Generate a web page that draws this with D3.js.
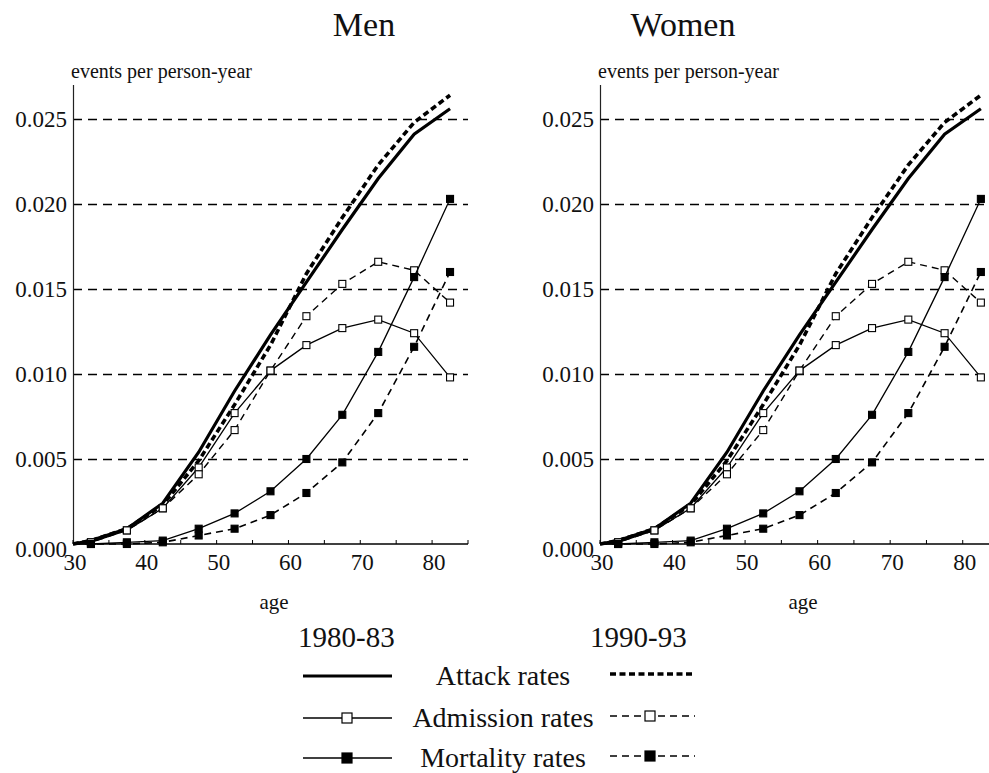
<!DOCTYPE html>
<html>
<head>
<meta charset="utf-8">
<script src="https://cdn.jsdelivr.net/npm/d3@7"></script>
<style>
    body { margin: 0; background: #fff; }
    svg { display: block; }
    text { font-family: "Liberation Serif", "Times New Roman", serif; fill: #111; }
</style>
</head>
<body>
<div id="chart"></div>
<script>
// data (both panels show the same curves)
const panels = ['Men', 'Women'];
const ages = [32.5, 37.5, 42.5, 47.5, 52.5, 57.5, 62.5, 67.5, 72.5, 77.5, 82.5];
const startAge = 30;
const attack8083 = [0.0002, 0.0009, 0.0024, 0.0054, 0.0090, 0.0123, 0.0154, 0.0185, 0.0215, 0.0241, 0.0256];
const attack9093 = [0.0002, 0.0009, 0.0023, 0.0049, 0.0082, 0.0117, 0.0159, 0.0192, 0.0223, 0.0248, 0.0264];
const admission8083 = [0.0001, 0.0008, 0.0021, 0.0045, 0.0077, 0.0102, 0.0117, 0.0127, 0.0132, 0.0124, 0.0098];
const admission9093 = [0.0001, 0.0008, 0.0021, 0.0041, 0.0067, 0.0102, 0.0134, 0.0153, 0.0166, 0.0161, 0.0142];
const mortality8083 = [0.0000, 0.0001, 0.0002, 0.0009, 0.0018, 0.0031, 0.0050, 0.0076, 0.0113, 0.0157, 0.0203];
const mortality9093 = [0.0000, 0.0000, 0.0001, 0.0005, 0.0009, 0.0017, 0.0030, 0.0048, 0.0077, 0.0116, 0.0160];
const yTicks = [0, 0.005, 0.010, 0.015, 0.020, 0.025];
const xTicks = [30, 40, 50, 60, 70, 80];
const periods = ['1980-83', '1990-93'];
const legendNames = ['Attack rates', 'Admission rates', 'Mortality rates'];

const width = 989, height = 773;

// line styles
const styles = [
    { values: attack8083, dash: null, w: 3.2, marker: null },
    { values: attack9093, dash: '6,3.5', w: 3.6, marker: null },
    { values: admission8083, dash: null, w: 1.3, marker: 'open' },
    { values: admission9093, dash: '7,5', w: 1.4, marker: 'open' },
    { values: mortality8083, dash: null, w: 1.3, marker: 'filled' },
    { values: mortality9093, dash: '7,5', w: 1.6, marker: 'filled' }
];

const svg = d3.select('#chart').append('svg')
    .attr('width', width)
    .attr('height', height)
    .attr('font-family', '"Liberation Serif", "Times New Roman", serif');

// panel frames: axis x, x at age 85, title centre
const frames = [
    { x0: 73, x1: 468, titleX: 364 },
    { x0: 600, x1: 999, titleX: 683 }
];

panels.forEach((name, i) => drawPanel(name, frames[i]));
drawLegend();

function drawPanel(name, f) {
    const x = d3.scaleLinear().domain([30, 85]).range([f.x0, f.x1]);
    const y = d3.scaleLinear().domain([0, 0.027]).range([544, 85]);
    const g = svg.append('g');

    g.append('text')
        .attr('x', f.titleX).attr('y', 36)
        .attr('text-anchor', 'middle')
        .style('font-size', '34px')
        .text(name);

    g.append('text')
        .attr('x', f.x0 - 2).attr('y', 78)
        .style('font-size', '20px')
        .text('events per person-year');

    // dashed grid
    g.selectAll('.grid')
        .data(yTicks.filter(d => d > 0))
        .enter().append('line')
        .attr('x1', f.x0).attr('x2', Math.min(f.x1, width))
        .attr('y1', d => Math.round(y(d)) + 0.5).attr('y2', d => Math.round(y(d)) + 0.5)
        .attr('stroke', '#000').attr('stroke-width', 1.3)
        .attr('stroke-dasharray', '9,6');

    // axes
    g.append('line')
        .attr('x1', f.x0 + 0.5).attr('x2', f.x0 + 0.5)
        .attr('y1', y(0)).attr('y2', y(0.027))
        .attr('stroke', '#222').attr('stroke-width', 1.2);
    g.append('line')
        .attr('x1', f.x0).attr('x2', Math.min(f.x1, width))
        .attr('y1', y(0)).attr('y2', y(0))
        .attr('stroke', '#000').attr('stroke-width', 1.6);

    g.selectAll('.xtick')
        .data(d3.range(30, 86, 5))
        .enter().append('line')
        .attr('x1', d => x(d)).attr('x2', d => x(d))
        .attr('y1', y(0)).attr('y2', y(0) - 4)
        .attr('stroke', '#000');

    g.selectAll('.xlabel')
        .data(xTicks)
        .enter().append('text')
        .attr('x', d => x(d) + 2).attr('y', 570)
        .attr('text-anchor', 'middle')
        .style('font-size', '23px')
        .text(d => d);

    g.selectAll('.ylabel')
        .data(yTicks)
        .enter().append('text')
        .attr('x', f.x0 - 6)
        .attr('y', d => y(d) + (d === 0 ? 13 : 8))
        .attr('text-anchor', 'end')
        .style('font-size', '23px')
        .text(d => d3.format('.3f')(d));

    g.append('text')
        .attr('x', x(58)).attr('y', 609)
        .attr('text-anchor', 'middle')
        .style('font-size', '21px')
        .text('age');

    const line = d3.line()
        .x(d => x(d[0]))
        .y(d => y(d[1]));

    styles.forEach(s => {
        const pts = [[startAge, 0]].concat(ages.map((a, k) => [a, s.values[k]]));
        g.append('path')
            .attr('d', line(pts))
            .attr('fill', 'none')
            .attr('stroke', '#000')
            .attr('stroke-width', s.w)
            .attr('stroke-dasharray', s.dash);

        if (s.marker) {
            g.selectAll(null)
                .data(ages.map((a, k) => [a, s.values[k]]))
                .enter().append('rect')
                .attr('x', d => x(d[0]) - 3.5).attr('y', d => y(d[1]) - 3.5)
                .attr('width', 7).attr('height', 7)
                .attr('fill', s.marker === 'open' ? '#fff' : '#000')
                .attr('stroke', '#000').attr('stroke-width', 1.1);
        }
    });
}

function drawLegend() {
    const g = svg.append('g');
    g.append('text').attr('x', 298).attr('y', 647)
        .style('font-size', '29px').text(periods[0]);
    g.append('text').attr('x', 590).attr('y', 647)
        .style('font-size', '29px').text(periods[1]);

    const rows = [676, 718, 758];
    legendNames.forEach((name, i) => {
        g.append('text')
            .attr('x', 503).attr('y', rows[i] + 9)
            .attr('text-anchor', 'middle')
            .style('font-size', '28px')
            .text(name);

        [[303, 392, 347], [610, 695, 650]].forEach((pos, j) => {
            const s = styles[i * 2 + j];
            const yy = rows[i] - (j === 1 ? 2 : 0);
            g.append('line')
                .attr('x1', pos[0]).attr('x2', pos[1])
                .attr('y1', yy).attr('y2', yy)
                .attr('stroke', '#000')
                .attr('stroke-width', s.w)
                .attr('stroke-dasharray', s.dash);
            if (s.marker) {
                g.append('rect')
                    .attr('x', pos[2] - 5).attr('y', yy - 5)
                    .attr('width', 10).attr('height', 10)
                    .attr('fill', s.marker === 'open' ? '#fff' : '#000')
                    .attr('stroke', '#000').attr('stroke-width', 1.2);
            }
        });
    });
}
</script>
</body>
</html>
